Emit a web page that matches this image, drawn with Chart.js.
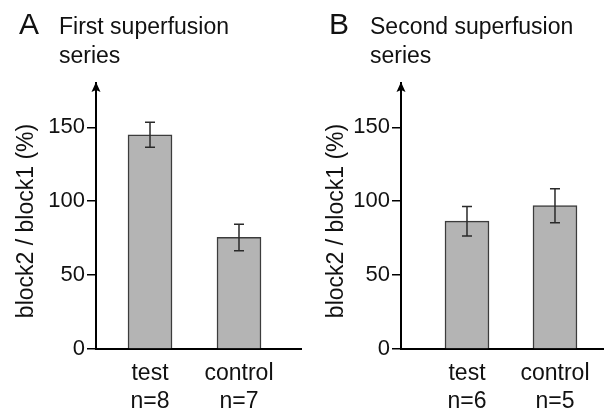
<!DOCTYPE html>
<html><head><meta charset="utf-8">
<script src="https://cdn.jsdelivr.net/npm/chart.js@4"></script>
<style>
body{margin:0;background:#fff}
#wrap{display:flex;width:604px;height:412px}
.p{position:relative;width:302px;height:412px}
</style>
</head><body>
<div id="wrap"><div class="p"><canvas id="ca"></canvas></div><div class="p"><canvas id="cb"></canvas></div></div>
<script>
// ---- data ----
const categoriesA = ['test', 'control'];
const countsA = ['n=8', 'n=7'];
const meansA = [145, 75.5];
const errorsA = [8.5, 9];

const categoriesB = ['test', 'control'];
const countsB = ['n=6', 'n=5'];
const meansB = [86.5, 97];
const errorsB = [10, 11.5];

const yTickValues = [0, 50, 100, 150];
const yAxisMax = 180;
const yAxisTitle = 'block2 / block1 (%)';

const FONT = '"Liberation Sans", Arial, Helvetica, sans-serif';

function makePanel(id, cfg) {
  const errPlugin = {
    id: 'errbars',
    afterDatasetsDraw(chart) {
      const ctx = chart.ctx, xs = chart.scales.x, ys = chart.scales.y;
      ctx.save();
      ctx.strokeStyle = '#2a2a2a';
      ctx.lineWidth = 1.5;
      cfg.means.forEach((m, i) => {
        const x = xs.getPixelForValue(i + 1);
        const yt = ys.getPixelForValue(m + cfg.errors[i]);
        const yb = ys.getPixelForValue(m - cfg.errors[i]);
        ctx.beginPath();
        ctx.moveTo(x, yt); ctx.lineTo(x, yb);
        ctx.moveTo(x - 5, yt); ctx.lineTo(x + 5, yt);
        ctx.moveTo(x - 5, yb); ctx.lineTo(x + 5, yb);
        ctx.stroke();
      });
      ctx.restore();
    },
    afterDraw(chart) {
      const ctx = chart.ctx, a = chart.chartArea;
      ctx.save();
      // arrow head on the y axis
      ctx.fillStyle = '#000';
      ctx.beginPath();
      ctx.moveTo(a.left, a.top - 1);
      ctx.lineTo(a.left - 4.5, a.top + 9);
      ctx.lineTo(a.left, a.top + 7);
      ctx.lineTo(a.left + 4.5, a.top + 9);
      ctx.closePath();
      ctx.fill();
      // panel letter and heading
      ctx.fillStyle = '#111';
      ctx.textBaseline = 'alphabetic';
      ctx.textAlign = 'left';
      ctx.font = '30px ' + FONT;
      ctx.fillText(cfg.letter, cfg.letterX, 34);
      ctx.font = '23px ' + FONT;
      ctx.fillText(cfg.heading[0], cfg.headX, 34);
      ctx.fillText(cfg.heading[1], cfg.headX, 63);
      // y axis title
      ctx.save();
      ctx.translate(cfg.yTitleX, 221);
      ctx.rotate(-Math.PI / 2);
      ctx.textAlign = 'center';
      ctx.textBaseline = 'middle';
      ctx.font = '23px ' + FONT;
      ctx.fillText(yAxisTitle, 0, 0);
      ctx.restore();
      ctx.restore();
    }
  };

  return new Chart(document.getElementById(id), {
    type: 'bar',
    data: {
      datasets: [{
        data: cfg.means.map((m, i) => ({ x: i + 1, y: m })),
        backgroundColor: '#b4b4b4',
        borderColor: '#3c3c3c',
        borderWidth: 1.5,
        barThickness: 44
      }]
    },
    options: {
      responsive: true,
      maintainAspectRatio: false,
      animation: false,
      layout: { padding: { top: 83, left: 0, right: 0, bottom: 0 } },
      plugins: { legend: { display: false }, tooltip: { enabled: false } },
      scales: {
        x: {
          type: 'linear',
          offset: false,
          bounds: 'data',
          min: cfg.xMin, max: cfg.xMax,
          afterDataLimits: s => { s.min = cfg.xMin; s.max = cfg.xMax; },
          afterBuildTicks: s => { s.ticks = cfg.cats.map((c, i) => ({ value: i + 1 })); },
          afterFit: s => { s.height = 63; },
          grid: { display: false, drawTicks: false, offset: false },
          border: { display: true, color: '#000', width: 2 },
          ticks: {
            autoSkip: false,
            maxRotation: 0,
            padding: 11,
            color: '#111',
            font: { family: FONT, size: 23, lineHeight: 1.2 },
            callback: (v, i) => [cfg.cats[i], cfg.counts[i]]
          }
        },
        y: {
          min: 0, max: yAxisMax,
          afterBuildTicks: s => { s.ticks = yTickValues.map(v => ({ value: v })); },
          afterFit: s => { s.width = cfg.yWidth; },
          grid: { drawOnChartArea: false, drawTicks: true, tickLength: 9, color: '#000', lineWidth: 1.5 },
          border: { display: true, color: '#000', width: 2 },
          ticks: { padding: 2, color: '#111', font: { family: FONT, size: 22 } }
        }
      }
    },
    plugins: [errPlugin]
  });
}

makePanel('ca', {
  cats: categoriesA, counts: countsA, means: meansA, errors: errorsA,
  xMin: 0.393, xMax: 2.708, yWidth: 96, yTitleX: 27,
  letter: 'A', letterX: 19, heading: ['First superfusion', 'series'], headX: 59
});
makePanel('cb', {
  cats: categoriesB, counts: countsB, means: meansB, errors: errorsB,
  xMin: 0.25, xMax: 2.557, yWidth: 99, yTitleX: 35,
  letter: 'B', letterX: 27, heading: ['Second superfusion', 'series'], headX: 68
});
</script>
</body></html>
